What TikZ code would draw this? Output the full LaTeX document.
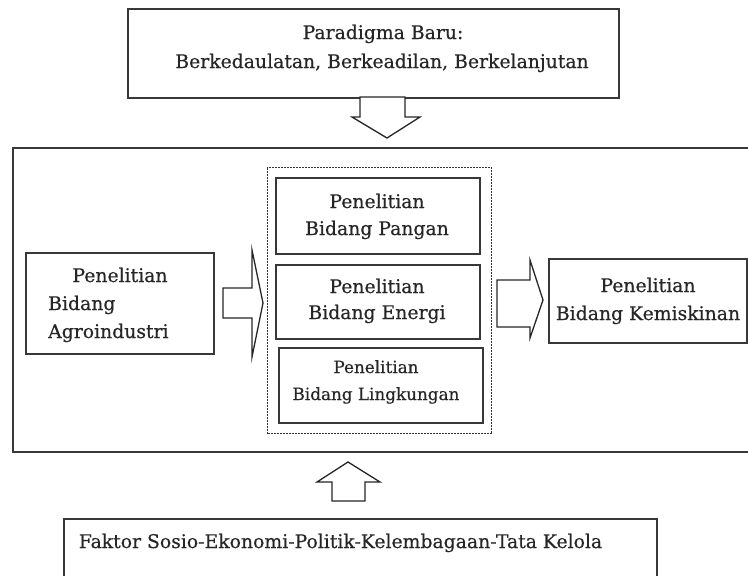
\documentclass[tikz,border=0pt]{standalone}
\usepackage{fontspec}
\setmainfont{DejaVu Serif}[FakeBold=0.45]
\begin{document}
\begin{tikzpicture}[x=1pt,y=-1pt,
  box/.style={draw=black!78,line width=1.9pt,inner sep=0,anchor=north west},
  grp/.style={draw=black!80,line width=1.1pt,dash pattern=on 2pt off 1pt,inner sep=0,anchor=north west},
  txt/.style={font=\fontsize{18.8}{27}\selectfont,inner sep=0,anchor=base,text=black!85},
  txts/.style={txt,font=\fontsize{16.8}{24}\selectfont},
  txtl/.style={txt,anchor=base west},
  blk/.style={draw=black!85,line width=1.3pt,fill=white,line join=miter}]
\useasboundingbox (0,0) rectangle (748,576);
% top box
\node[box,minimum width=491pt,minimum height=89pt] (top) at (127,8) {};
\node[txt] (top1) at (383,39) {Paradigma Baru:};
\node[txt] (top2) at (382,68) {Berkedaulatan, Berkeadilan, Berkelanjutan};
% down arrow
\draw[blk] (360,97) -- (360,117) -- (352,117) -- (387,138) -- (420,117) -- (405,117) -- (405,97) -- cycle;
% main box
\node[box,minimum width=740pt,minimum height=304pt] (main) at (12,147) {};
% agroindustri
\node[box,minimum width=188pt,minimum height=101pt] (agro) at (25,252) {};
\node[txt] (agro1) at (120,282) {Penelitian};
\node[txtl] (agro2) at (48,310) {Bidang};
\node[txtl] (agro3) at (48,338) {Agroindustri};
% left block arrow
\draw[blk] (223,288) -- (252,288) -- (252,250) -- (263,303) -- (252,357) -- (252,318) -- (223,318) -- cycle;
% dashed group
\node[grp,minimum width=224pt,minimum height=266pt] (group) at (267,167) {};
\node[box,minimum width=204pt,minimum height=76pt] (pangan) at (275,177) {};
\node[txt] (pangan1) at (377,208) {Penelitian};
\node[txt] (pangan2) at (377,235) {Bidang Pangan};
\node[box,minimum width=204pt,minimum height=74pt] (energi) at (275,264) {};
\node[txt] (energi1) at (377,293) {Penelitian};
\node[txt] (energi2) at (377,319) {Bidang Energi};
\node[box,minimum width=204pt,minimum height=75pt] (lingk) at (278,347) {};
\node[txts] (lingk1) at (376,373) {Penelitian};
\node[txts] (lingk2) at (376,400) {Bidang Lingkungan};
% right block arrow
\draw[blk] (497,280) -- (530,280) -- (530,260) -- (543,300) -- (530,338) -- (530,327) -- (497,327) -- cycle;
% kemiskinan
\node[box,minimum width=198pt,minimum height=84pt] (kemis) at (548,258) {};
\node[txt] (kemis1) at (648,292) {Penelitian};
\node[txt] (kemis2) at (648,320) {Bidang Kemiskinan};
% up arrow
\draw[blk] (332,501) -- (332,482) -- (317,482) -- (348,462) -- (380,482) -- (365,482) -- (365,501) -- cycle;
% bottom box
\node[box,minimum width=593pt,minimum height=72pt] (bottom) at (63,518) {};
\node[txt] (bottom1) at (340.5,548) {Faktor Sosio-Ekonomi-Politik-Kelembagaan-Tata Kelola};
\end{tikzpicture}
\end{document}
